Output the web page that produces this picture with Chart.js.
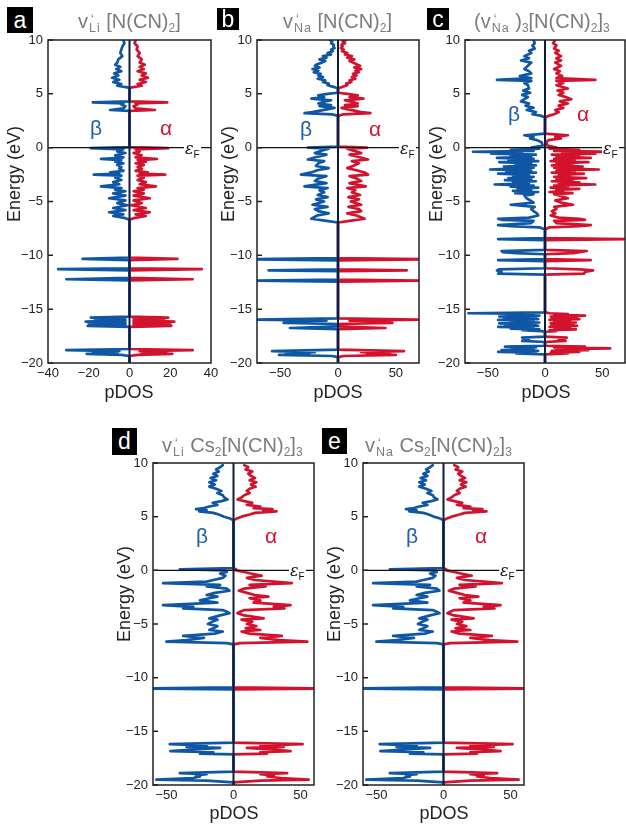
<!doctype html>
<html>
<head>
<meta charset="utf-8">
<title>Spin-resolved pDOS</title>
<script src="https://cdn.jsdelivr.net/npm/chart.js@4.4.1/dist/chart.umd.min.js"></script>
<style>
  html, body { margin: 0; padding: 0; background: #ffffff; }
  body { position: relative; width: 626px; height: 827px; overflow: hidden; font-family: "Liberation Sans", Arial, Helvetica, sans-serif; }
  canvas { position: absolute; }
  .tag { position: absolute; background: #000; color: #fff; font-size: 23px; line-height: 1; display: flex; align-items: center; justify-content: center; }
  .title { position: absolute; color: #7c7c7c; font-size: 20px; line-height: 1; white-space: nowrap; }
  .title sub { font-size: 12px; vertical-align: -4px; line-height: 0; }
  .kv { position: relative; display: inline-block; font-size: 12.5px; vertical-align: -4px; line-height: 1; margin-left: 1px; letter-spacing: 1px; }
  .kv i { position: absolute; left: 2px; top: -9px; font-style: normal; font-size: 12px; }
  .ylab { position: absolute; font-size: 18px; color: #222; line-height: 1; white-space: nowrap; transform: translate(-50%, -50%) rotate(-90deg); }
  .xlab { position: absolute; font-size: 18px; color: #222; line-height: 1; transform: translateX(-50%); }
  .spin { position: absolute; font-size: 21px; line-height: 1; transform: translate(-50%, -50%); }
  .beta { color: #1f5fae; }
  .alpha { color: #d6142f; }
  .ef { position: absolute; background: #fff; font-size: 16px; line-height: 1; color: #111; padding: 0 1px; }
  .ef i { font-family: "DejaVu Serif", serif; }
  .ef sub { font-size: 10px; vertical-align: -4px; line-height: 0; }
</style>
</head>
<body>

<canvas id="pdosA" width="226" height="395" style="left:0px;top:0px"></canvas>
<canvas id="pdosB" width="219" height="395" style="left:215px;top:0px"></canvas>
<canvas id="pdosC" width="201" height="395" style="left:425px;top:0px"></canvas>
<canvas id="pdosD" width="230" height="395" style="left:100px;top:420px"></canvas>
<canvas id="pdosE" width="230" height="395" style="left:310px;top:420px"></canvas>

<div class="tag" style="left:7px;top:7px;width:26px;height:26px">a</div>
<div class="tag" style="left:217px;top:8px;width:22px;height:22px">b</div>
<div class="tag" style="left:427px;top:8px;width:22px;height:22px">c</div>
<div class="tag" style="left:112px;top:428px;width:25px;height:27px">d</div>
<div class="tag" style="left:322px;top:428px;width:25px;height:26px">e</div>

<div class="title" style="left:78px;top:11px">v<span class="kv"><i>‘</i>Li</span> [N(CN)<sub>2</sub>]</div>
<div class="title" style="left:283px;top:11px">v<span class="kv"><i>‘</i>Na</span> [N(CN)<sub>2</sub>]</div>
<div class="title" style="left:474px;top:11px">(v<span class="kv"><i>‘</i>Na</span> )<sub>3</sub>[N(CN)<sub>2</sub>]<sub>3</sub></div>
<div class="title" style="left:162px;top:435px">v<span class="kv"><i>‘</i>Li</span> Cs<sub>2</sub>[N(CN)<sub>2</sub>]<sub>3</sub></div>
<div class="title" style="left:365px;top:435px">v<span class="kv"><i>‘</i>Na</span> Cs<sub>2</sub>[N(CN)<sub>2</sub>]<sub>3</sub></div>

<div class="ylab" style="left:14px;top:174px">Energy (eV)</div>
<div class="ylab" style="left:228px;top:174px">Energy (eV)</div>
<div class="ylab" style="left:436px;top:174px">Energy (eV)</div>
<div class="ylab" style="left:124px;top:594px">Energy (eV)</div>
<div class="ylab" style="left:334px;top:594px">Energy (eV)</div>

<div class="xlab" style="left:129px;top:383px">pDOS</div>
<div class="xlab" style="left:338px;top:383px">pDOS</div>
<div class="xlab" style="left:546px;top:383px">pDOS</div>
<div class="xlab" style="left:234px;top:804px">pDOS</div>
<div class="xlab" style="left:444px;top:804px">pDOS</div>

<div class="spin beta" style="left:96px;top:127px">β</div>
<div class="spin alpha" style="left:166px;top:127px">α</div>
<div class="spin beta" style="left:306px;top:128px">β</div>
<div class="spin alpha" style="left:375px;top:128px">α</div>
<div class="spin beta" style="left:514px;top:113px">β</div>
<div class="spin alpha" style="left:583px;top:113px">α</div>
<div class="spin beta" style="left:202px;top:535px">β</div>
<div class="spin alpha" style="left:271px;top:535px">α</div>
<div class="spin beta" style="left:412px;top:535px">β</div>
<div class="spin alpha" style="left:481px;top:535px">α</div>

<div class="ef" style="left:184px;top:141px"><i>ε</i><sub>F</sub></div>
<div class="ef" style="left:399px;top:141px"><i>ε</i><sub>F</sub></div>
<div class="ef" style="left:602px;top:141px"><i>ε</i><sub>F</sub></div>
<div class="ef" style="left:289px;top:563px"><i>ε</i><sub>F</sub></div>
<div class="ef" style="left:499px;top:563px"><i>ε</i><sub>F</sub></div>

<script>
// Spin-resolved pDOS (alpha to the right, beta to the left) vs energy in eV.
// Each panel shares one energy list between its two spin channels.

// (a) v'Li [N(CN)2]
const aEnergy = [10, 9.7, 9.4, 9.1, 8.8, 8.5, 8.2, 7.9, 7.7, 7.5,
  7.3, 7.1, 6.9, 6.7, 6.5, 6.3, 6.1, 5.9, 5.75, 5.6,
  5.5, 4.3, 4.2, 4.12, 4.0, 3.85, 3.65, 3.5, 3.42, 3.3,
  0.05, -0.05, -0.15, -0.35, -0.5, -0.7, -0.9, -1.05, -1.15, -1.3,
  -1.45, -1.6, -1.8, -1.95, -2.15, -2.3, -2.4, -2.5, -2.6, -2.8,
  -3.0, -3.2, -3.4, -3.6, -3.75, -3.9, -4.05, -4.25, -4.45, -4.7,
  -4.9, -5.15, -5.35, -5.6, -5.8, -6.0, -6.2, -6.35, -6.55, -6.7,
  -10.2, -10.33, -10.45, -11.2, -11.29, -11.4, -12.1, -12.22, -12.32, -15.7,
  -15.78, -15.85, -15.95, -16.05, -16.15, -16.25, -16.35, -16.45, -16.55, -16.65,
  -18.7, -18.81, -18.9, -19.0, -19.1, -19.15, -19.25, -19.35, -20];
const aAlpha = [3, 2.5, 4, 3.5, 5, 4, 6, 5, 7.5, 5,
  7, 4, 8, 6, 9, 5, 8, 4, 6, 1,
  0, 0, 18.5, 3, 4, 2, 3, 12.5, 0, 0,
  0, 19, 3, 5, 2, 6, 3, 13.5, 4, 8,
  3, 7, 4, 6, 3, 9, 5, 17.5, 4, 7,
  4, 8, 5, 13, 4, 7, 2, 7, 2, 10,
  2, 6, 1, 8, 2, 10, 3, 8, 2, 0,
  0, 23.5, 0, 0, 35.5, 0, 0, 31, 0, 0,
  19, 2, 17, 2, 22, 2, 20, 2, 20.5, 0,
  0, 31, 5, 18, 6, 21, 4, 0, 0];
const aBeta = [-3, -2.5, -3.5, -4, -4.5, -3.5, -5.5, -6, -7, -4.5,
  -6.5, -4, -7.5, -5.5, -8.5, -5, -8, -4, -6, -1,
  0, 0, -18, -3, -4, -2, -3, -9.5, 0, 0,
  0, -19, -3, -6, -2, -7, -3, -14, -4, -7,
  -3, -6, -4, -5, -3, -9.5, -5, -17.5, -4, -7,
  -4, -8, -5, -14, -4, -7, -2, -8, -2, -10,
  -2, -6, -1, -8, -2, -10, -3, -8, -2, 0,
  0, -23, 0, 0, -35, 0, 0, -31, 0, 0,
  -19, -2, -17, -2, -21.5, -2, -20, -2, -20.5, 0,
  0, -31, -5, -18, -6, -21, -4, 0, 0];

// (b) v'Na [N(CN)2]
const bEnergy = [10, 9.85, 9.7, 9.55, 9.4, 9.25, 9.1, 8.95, 8.8, 8.65,
  8.5, 8.35, 8.2, 8.05, 7.9, 7.75, 7.6, 7.45, 7.3, 7.15,
  7.0, 6.85, 6.7, 6.55, 6.4, 6.25, 6.1, 5.95, 5.8, 5.65,
  5.5, 5.1, 5.0, 4.85, 4.7, 4.55, 4.4, 4.25, 4.1, 3.95,
  3.85, 3.7, 3.3, 3.2, 3.1, 2.95, 0.1, 0, -0.1, -0.3,
  -0.5, -0.65, -0.85, -1.1, -1.25, -1.45, -1.7, -1.9, -2.1, -2.3,
  -2.5, -2.65, -2.85, -3.1, -3.3, -3.6, -3.75, -3.95, -4.15, -4.4,
  -4.6, -4.8, -5.0, -5.3, -5.5, -5.7, -5.9, -6.1, -6.3, -6.6,
  -6.8, -6.95, -10.25, -10.36, -10.46, -11.3, -11.39, -11.48, -12.25, -12.35,
  -12.45, -15.85, -15.97, -16.07, -16.15, -16.22, -16.28, -16.38, -16.6, -16.75,
  -16.85, -18.75, -18.9, -19.0, -19.1, -19.17, -19.25, -19.35, -19.45, -20];
const bAlpha = [7, 4, 6, 3, 4, 2.5, 5, 3.5, 8, 6,
  12, 8, 14, 10, 13, 16, 19, 14, 20, 15,
  18, 13, 16, 12, 15, 10, 11.5, 7, 8, 4,
  0, 0, 8, 17, 10, 22, 6, 12, 17, 6,
  17, 3, 20, 28, 5, 0, 0, 25, 8, 14,
  20, 10, 17, 26, 12, 18, 13, 8, 16, 23,
  26, 10, 16, 20, 10, 24, 8, 15, 12, 19,
  9, 18, 11, 20, 9, 18, 20, 8, 16, 23,
  10, 0, 0, 80, 0, 0, 59.5, 0, 0, 80,
  0, 0, 69, 10, 45, 20, 47, 0, 0, 41,
  0, 0, 57, 20, 45, 25, 50, 5, 0, 0];
const bBeta = [-7, -5, -6, -3.5, -4, -3, -6, -4.5, -9, -6,
  -13, -10, -16, -11, -14, -18, -20, -16, -22, -17,
  -21, -15, -17, -13, -17.5, -11, -13, -8, -9, -4,
  0, 0, -9, -17, -12, -23, -6, -13, -17, -6,
  -16, -3, -22, -29, -5, 0, 0, -26, -8, -15,
  -20, -10, -18, -26, -12, -17, -19, -8, -18, -23,
  -32, -10, -17, -20, -10, -29, -9, -16, -12, -17.5,
  -9, -19, -12, -22, -9, -20, -17, -8, -18, -23,
  -10, 0, 0, -80, 0, 0, -60, 0, 0, -80,
  0, 0, -72, -10, -45, -20, -47, 0, 0, -41.5,
  0, 0, -57, -20, -45, -25, -51, -5, 0, 0];

// (c) (v'Na)3[N(CN)2]3
const cEnergy = [10, 9.7, 9.5, 9.2, 9.0, 8.8, 8.5, 8.3, 8.1, 7.9,
  7.6, 7.3, 7.1, 6.9, 6.65, 6.45, 6.3, 6.2, 6.0, 5.8,
  5.5, 5.3, 5.1, 4.9, 4.7, 4.5, 4.3, 4.1, 3.9, 3.7,
  3.5, 3.3, 3.1, 2.95, 2.8, 1.3, 1.15, 1.0, 0.85, 0.7,
  0.5, 0.2,
  0, -0.1, -0.2, -0.3, -0.38, -0.46, -0.55, -0.65, -0.75, -0.85,
  -0.95, -1.05, -1.15, -1.25, -1.35, -1.45, -1.55, -1.65, -1.75, -1.85,
  -1.95, -2.03, -2.12, -2.22, -2.32, -2.42, -2.52, -2.62, -2.72, -2.82,
  -2.92, -3.02, -3.12, -3.22, -3.32, -3.42, -3.52, -3.62, -3.72, -3.82,
  -3.92, -4.02, -4.12, -4.22, -4.32, -4.45,
  -4.7, -4.9, -5.1, -5.3, -5.5, -5.7, -5.9, -6.1, -6.3, -6.5,
  -6.6, -6.7, -6.8, -7.0, -7.2, -7.3, -7.4, -7.6, -8.4, -8.5,
  -8.6, -9.5, -9.6, -9.7, -9.8, -9.9, -10.35, -10.45, -10.55, -10.65,
  -11.2, -11.3, -11.4, -11.55, -11.7, -11.8, -11.9,
  -15.3, -15.38, -15.45, -15.52, -15.6, -15.68, -15.76, -15.84, -15.92, -16.0,
  -16.08, -16.16, -16.24, -16.32, -16.4, -16.48, -16.56, -16.64, -16.72, -16.8,
  -16.88, -16.96, -17.04, -17.1,
  -17.55, -17.65, -17.8, -17.95, -18.05,
  -18.4, -18.48, -18.56, -18.64, -18.72, -18.8, -18.88, -18.96, -19.04, -19.12, -19.2,
  -20];
const cAlpha = [9, 7, 10, 8, 12, 9, 14, 10, 14, 9,
  14, 8, 13, 10, 15, 10, 44, 10, 16, 10,
  20, 11, 16, 12, 18, 23, 13, 20, 12, 16,
  9, 12, 8, 3, 0, 0, 20, 9, 14, 3,
  1, 2,
  10, 4, 30, 8, 61.5, 15, 44, 6, 30, 10,
  40, 8, 26, 5, 38, 10, 24, 6, 33, 8,
  22, 47, 10, 26, 6, 34, 12, 22, 8, 36,
  10, 24, 6, 30, 12, 44, 8, 20, 5, 30,
  10, 16, 4, 24, 8, 12,
  20, 9, 14, 24.5, 8, 10, 6, 9, 5, 12,
  30, 35, 8, 10, 40, 30, 4, 0, 0, 75,
  0, 0, 36.5, 30, 25, 0, 0, 40, 0, 0,
  0, 30, 42, 35, 34, 0, 0,
  0, 4, 20, 8, 35, 5, 28, 6, 30, 4,
  22, 8, 27, 5, 25, 6, 28, 4, 22, 8,
  27, 4, 10, 0,
  0, 19, 12, 18, 0,
  0, 35, 8, 57, 10, 38, 6, 30, 5, 20, 0,
  0];
const cBeta = [-10, -9, -11, -9, -14, -12, -18, -14, -21, -12,
  -15, -18, -14, -12, -22, -12, -42, -12, -18, -15,
  -14, -19, -13, -20, -15, -18, -21, -14, -17, -10,
  -16, -8, -11, -3, 0, 0, -18, -10, -13, -7,
  -3, -2,
  -12, -5, -30, -10, -63, -20, -47, -8, -30, -12,
  -42, -10, -32, -6, -40, -12, -26, -8, -36, -10,
  -30, -48, -12, -34, -8, -41, -14, -28, -10, -32,
  -12, -35, -8, -28, -14, -44, -10, -30, -6, -24,
  -12, -28, -6, -26, -10, -18,
  -16, -13, -10, -30, -9, -12, -10, -7, -6, -14,
  -41, -38, -10, -12, -41, -30, -5, 0, 0, -41,
  0, 0, -38, -37, -25, 0, 0, -41, 0, 0,
  0, -40, -42, -38, -41, 0, 0,
  0, -67, -10, -30, -5, -40, -8, -36, -6, -41,
  -10, -30, -5, -40, -8, -35, -6, -41, -10, -30,
  -5, -20, -3, 0,
  0, -20, -14, -20, 0,
  0, -35, -8, -29, -10, -38, -6, -41, -8, -25, 0,
  0];

// (d) v'Li Cs2[N(CN)2]3
const dEnergy = [9.8, 9.6, 9.4, 9.2, 9.0, 8.8, 8.6, 8.4, 8.2, 8.0,
  7.8, 7.6, 7.4, 7.2, 7.0, 6.8, 6.6, 6.45, 6.3, 6.1,
  5.95, 5.8, 5.7, 5.6, 5.5, 5.35, 5.2, 5.0, 4.8, 4.65,
  0.2, 0.1, 0, -0.15, -0.3, -0.5, -0.7, -0.9, -1.05, -1.2,
  -1.35, -1.5, -1.7, -1.9, -2.1, -2.3, -2.45, -2.6, -2.8, -3.0,
  -3.25, -3.4, -3.55, -3.7, -3.85, -4.0, -4.2, -4.48, -4.6, -4.8,
  -5.0, -5.2, -5.4, -5.56, -5.7, -5.9, -6.1, -6.3, -6.5, -6.65,
  -6.78, -6.9, -10.9, -11.0, -11.1, -16.05, -16.2, -16.3, -16.45, -16.55,
  -16.7, -16.85, -16.95, -17.07, -17.15, -18.75, -18.9, -19.0, -19.1, -19.2,
  -19.35, -19.5, -19.6, -19.75, -20];
const dAlpha = [8, 11, 9, 14, 11, 13, 16, 12, 17, 13,
  16.5, 12, 10, 12, 8, 6, 3, 8, 14, 10,
  20, 15, 29, 22, 32, 16, 12, 6, 2, 0,
  0, 2, 2, 8, 13, 21, 10, 16, 30, 43.5,
  12, 24, 8, 4, 10, 16, 26, 12, 20, 15,
  42.5, 30, 38, 8, 5, 3, 8, 22.5, 6, 14,
  10, 17, 9, 20, 6, 12, 36, 20, 34, 55,
  5, 0, 0, 70, 0, 0, 51.5, 20, 37.5, 10,
  30, 42.5, 20, 25, 0, 0, 40, 20, 30, 25,
  35, 56, 20, 0, 0];
const dBeta = [-8, -10, -13, -11, -15, -12, -17, -13, -18, -14,
  -18, -13, -9, -12, -8, -7, -4.5, -9, -15.5, -12,
  -18, -22, -28, -20, -25.5, -15, -11, -7, -2, 0,
  0, -40, -6, -5, -10, -6, -8, -15, -20, -52.5,
  -10, -20, -5, -3, -14, -20, -12, -18, -25, -12,
  -52.5, -30, -37.5, -8, -5, -3, -10, -18, -12, -16,
  -19, -12, -15, -18, -8, -14, -37.5, -22, -35, -50,
  -5, 0, 0, -70, 0, 0, -47.5, -20, -35, -10,
  -30, -47, -15, -25, 0, 0, -40, -20, -28, -25,
  -30, -57.5, -20, 0, 0];

// (e) v'Na Cs2[N(CN)2]3 -- same pDOS as the Li-site vacancy
const eEnergy = dEnergy.slice();
const eAlpha = dAlpha.slice();
const eBeta = dBeta.slice();

const ENERGY_TICKS = [-20, -15, -10, -5, 0, 5, 10];
const RED = '#d3122d';
const BLUE = '#0f57a5';

const fmt = (v) => String(v).replace('-', '\u2212');

// zero lines, closed frame and inward energy ticks
const framePlugin = {
  id: 'frame',
  afterDatasetsDraw(chart) {
    const { ctx, chartArea: a, scales: { x, y } } = chart;
    ctx.save();
    const y0 = y.getPixelForValue(0);
    ctx.strokeStyle = '#111';
    ctx.lineWidth = 1.2;
    ctx.beginPath();
    ctx.moveTo(a.left, y0);
    ctx.lineTo(a.right, y0);
    ctx.stroke();

    const x0 = x.getPixelForValue(0);
    ctx.strokeStyle = '#0e1c3a';
    ctx.lineWidth = 2;
    ctx.beginPath();
    ctx.moveTo(x0, a.top);
    ctx.lineTo(x0, a.bottom);
    ctx.stroke();

    ctx.strokeStyle = '#222';
    ctx.lineWidth = 1.5;
    ctx.strokeRect(a.left, a.top, a.right - a.left, a.bottom - a.top);
    ctx.beginPath();
    y.ticks.forEach((t) => {
      const py = y.getPixelForValue(t.value);
      ctx.moveTo(a.left, py);
      ctx.lineTo(a.left + 5, py);
    });
    ctx.stroke();
    ctx.restore();
  }
};

function spinLine(energy, values, color) {
  return {
    data: energy.map((e, i) => ({ x: values[i], y: e })),
    showLine: true,
    borderColor: color,
    borderWidth: 2.7,
    borderJoinStyle: 'round',
    borderCapStyle: 'round',
    pointRadius: 0,
    fill: false
  };
}

function drawPanel(id, energy, alpha, beta, xMax, xTicks, box) {
  const tickFont = { family: '"Liberation Sans", Arial, sans-serif', size: 13 };
  new Chart(document.getElementById(id), {
    type: 'scatter',
    data: { datasets: [spinLine(energy, beta, BLUE), spinLine(energy, alpha, RED)] },
    options: {
      responsive: false,
      animation: false,
      devicePixelRatio: 1,
      events: [],
      layout: { padding: { top: box.top, right: box.right, left: 0, bottom: 0 } },
      plugins: { legend: { display: false }, tooltip: { enabled: false } },
      scales: {
        x: {
          type: 'linear',
          min: -xMax,
          max: xMax,
          afterBuildTicks: (s) => { s.ticks = xTicks.map((v) => ({ value: v })); },
          afterFit: (s) => { s.height = box.xh; },
          ticks: { callback: fmt, color: '#222', font: tickFont, padding: 3, maxRotation: 0, autoSkip: false },
          grid: { display: false, drawTicks: false },
          border: { display: false }
        },
        y: {
          type: 'linear',
          min: -20,
          max: 10,
          afterBuildTicks: (s) => { s.ticks = ENERGY_TICKS.map((v) => ({ value: v })); },
          afterFit: (s) => { s.width = box.yw; },
          ticks: { callback: fmt, color: '#222', font: tickFont, padding: 5, autoSkip: false },
          grid: { display: false, drawTicks: false },
          border: { display: false }
        }
      }
    },
    plugins: [framePlugin]
  });
}

drawPanel('pdosA', aEnergy, aAlpha, aBeta, 40, [-40, -20, 0, 20, 40], { top: 40, right: 15, yw: 48, xh: 32 });
drawPanel('pdosB', bEnergy, bAlpha, bBeta, 70, [-50, 0, 50], { top: 40, right: 15, yw: 42, xh: 32 });
drawPanel('pdosC', cEnergy, cAlpha, cBeta, 70, [-50, 0, 50], { top: 40, right: 1, yw: 40, xh: 32 });
drawPanel('pdosD', dEnergy, dAlpha, dBeta, 60, [-50, 0, 50], { top: 43, right: 16, yw: 53, xh: 30 });
drawPanel('pdosE', eEnergy, eAlpha, eBeta, 60, [-50, 0, 50], { top: 43, right: 16, yw: 53, xh: 30 });
</script>
</body>
</html>
